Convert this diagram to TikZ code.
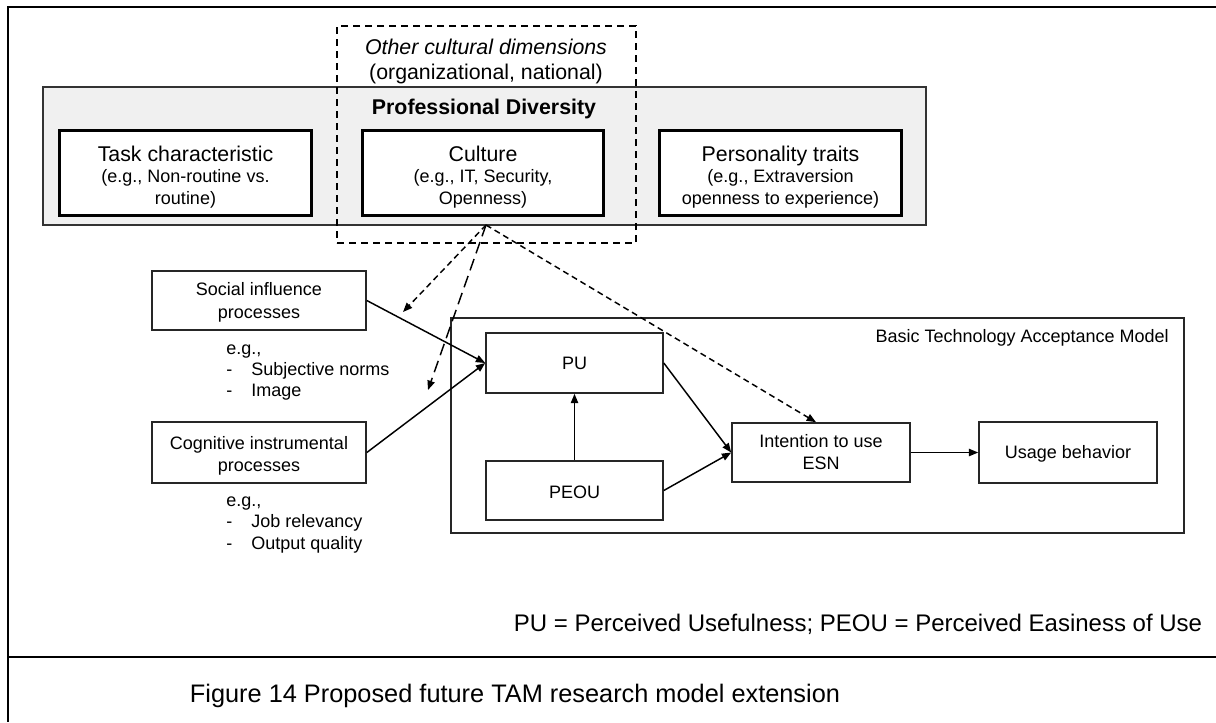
\documentclass[tikz,border=0pt]{standalone}
\usepackage{fontspec}
\setmainfont{Liberation Sans}
\usetikzlibrary{arrows.meta,fit,calc}
\begin{document}
\begin{tikzpicture}[x=0.75pt,y=-0.75pt,
  frame/.style={line width=1.8pt},
  thinbox/.style={draw=black!85, line width=1.2pt, inner sep=0pt},
  traitbox/.style={draw=black, line width=2.5pt, fill=white, inner sep=0pt},
  bigtxt/.style={inner sep=0pt, anchor=base, font=\fontsize{16}{19}\selectfont},
  smalltxt/.style={inner sep=0pt, anchor=base, font=\fontsize{13.5}{16}\selectfont},
  listtxt/.style={inner sep=0pt, anchor=base west, font=\fontsize{13.5}{16}\selectfont},
  arr/.style={line width=1.1pt, -{Triangle[length=7pt,width=5.5pt]}},
  dasharr/.style={arr, dash pattern=on 4.5pt off 3pt},
  longdasharr/.style={arr, dash pattern=on 9pt off 4.5pt},
]
\useasboundingbox (0,0) rectangle (1216,722);
\fill[white] (0,0) rectangle (1216,722);

% outer frame and caption separator
\draw[frame] (1216,7) -- (8,7) -- (8,722);
\draw[frame] (8,657) -- (1216,657);

% Professional Diversity panel
\node[fit={(43,87) (926,225)}, inner sep=0pt, draw=black!80, line width=1.2pt, fill=black!6] (pd) {};
\node[bigtxt, font=\bfseries\fontsize{16}{19}\selectfont] (pdtitle) at (484,114.7) {Professional Diversity};

% dashed frame for the other cultural dimensions
\node[fit={(337,26) (636,243)}, inner sep=0pt, draw, line width=1.1pt, dash pattern=on 5.5pt off 3.5pt] (ocd) {};
\node[bigtxt] (ocd1) at (486,54.6) {\itshape Other cultural dimensions};
\node[bigtxt] (ocd2) at (486,79.6) {(organizational, national)};

% the three diversity facets
\node[traitbox, fit={(59.5,130.5) (311.5,215.5)}] (task) {};
\node[bigtxt]   (task1) at (185.5,161.6) {Task characteristic};
\node[smalltxt] (task2) at (185.5,182.5) {(e.g., Non-routine vs.};
\node[smalltxt] (task3) at (185.5,204.5) {routine)};

\node[traitbox, fit={(362.5,130.5) (603.5,215.5)}] (culture) {};
\node[bigtxt]   (cul1) at (483,161.6) {Culture};
\node[smalltxt] (cul2) at (483,182.5) {(e.g., IT, Security,};
\node[smalltxt] (cul3) at (483,204.5) {Openness)};

\node[traitbox, fit={(659.5,130.5) (901.5,215.5)}] (person) {};
\node[bigtxt]   (per1) at (780.5,161.6) {Personality traits};
\node[smalltxt] (per2) at (780.5,182.5) {(e.g., Extraversion};
\node[smalltxt] (per3) at (780.5,204.5) {openness to experience)};

% external process boxes
\node[thinbox, fit={(152,271) (366,330)}] (social) {};
\node[smalltxt] (soc1) at (259,295.5) {Social influence};
\node[smalltxt] (soc2) at (259,318.5) {processes};

\node[thinbox, fit={(152,422) (366,483)}] (cog) {};
\node[smalltxt] (cog1) at (259,449.5) {Cognitive instrumental};
\node[smalltxt] (cog2) at (259,471.5) {processes};

% examples below the process boxes
\node[listtxt] (sl1) at (226,354.5) {e.g.,};
\node[listtxt] (sl2) at (226,375.5) {\makebox[18.75pt][l]{-}Subjective norms};
\node[listtxt] (sl3) at (226,396.5) {\makebox[18.75pt][l]{-}Image};
\node[listtxt] (cl1) at (226,506.5) {e.g.,};
\node[listtxt] (cl2) at (226,527.5) {\makebox[18.75pt][l]{-}Job relevancy};
\node[listtxt] (cl3) at (226,549.5) {\makebox[18.75pt][l]{-}Output quality};

% Basic TAM
\node[fit={(451,318) (1184,533)}, inner sep=0pt, draw=black!85, line width=1.2pt] (tam) {};
\node[smalltxt, anchor=base east] (tamlabel) at (1169,342.5) {Basic Technology Acceptance Model};

\node[thinbox, fit={(486,333) (663,393)}] (pu) {};
\node[smalltxt] (putxt) at (574.5,369.5) {PU};
\node[thinbox, fit={(486,461) (663,520)}] (peou) {};
\node[smalltxt] (peoutxt) at (574.5,498.5) {PEOU};
\node[thinbox, fit={(732,423) (910,482)}] (int) {};
\node[smalltxt] (int1) at (821,447.5) {Intention to use};
\node[smalltxt] (int2) at (821,469.5) {ESN};
\node[thinbox, fit={(979,422) (1157,483)}] (usage) {};
\node[smalltxt] (usetxt) at (1068,458.5) {Usage behavior};

% solid paths
\draw[arr] (social.east) -- (pu.west);
\draw[arr] (cog.east) -- (pu.west);
\draw[arr] (peou) -- (pu);
\draw[arr] (pu.east) -- (int.west);
\draw[arr] (peou.east) -- (int.west);
\draw[arr] (int) -- (usage);

% moderating effects of culture
\coordinate (src) at (486,225);
\coordinate (t1) at (403,312);
\coordinate (t2) at (428,390);
\draw[dasharr] (src) -- (t1);
\draw[longdasharr] (src) -- (t2);
\draw[dasharr] (src) -- ($(int.north)+(-5,0)$);

% abbreviations and caption
\node[inner sep=0pt, anchor=base, font=\fontsize{18}{20}\selectfont] (abbr) at (858,631.6)
  {PU = Perceived Usefulness; PEOU = Perceived Easiness of Use};
\node[inner sep=0pt, anchor=base, font=\fontsize{19}{21}\selectfont] (caption) at (515,702)
  {Figure 14 Proposed future TAM research model extension};
\end{tikzpicture}
\end{document}
